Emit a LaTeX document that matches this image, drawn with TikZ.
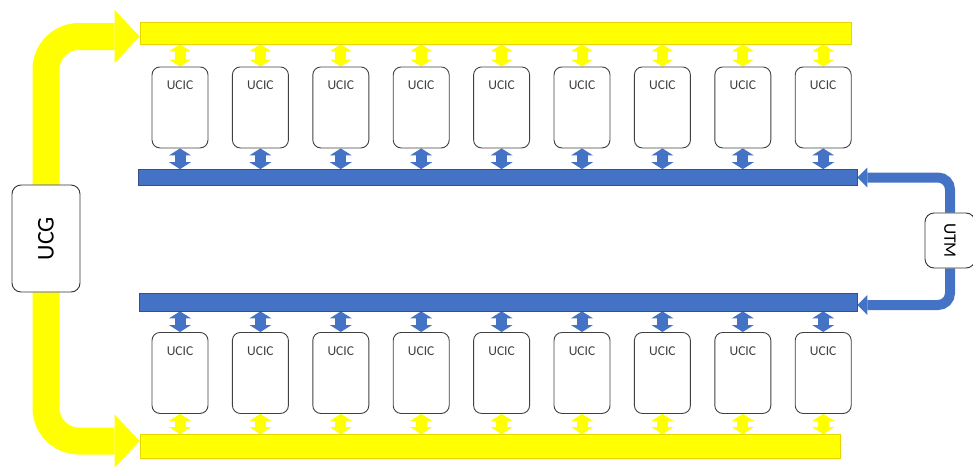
\documentclass[tikz,border=0pt]{standalone}
\usepackage{fontspec,graphicx}
\setmainfont{Carlito}
\usetikzlibrary{arrows.meta,positioning,backgrounds}
\definecolor{yc}{RGB}{255,255,0}
\definecolor{ye}{RGB}{232,214,0}
\definecolor{bc}{RGB}{68,114,196}
\definecolor{be}{RGB}{47,82,143}
\definecolor{tc}{RGB}{64,64,64}
\tikzset{ucic/.style={draw=tc,rounded corners=8pt,line width=.9pt,minimum width=56pt,inner xsep=0pt,inner ysep=14pt,
   text height=8.7pt,text depth=44.3pt,anchor=north,font=\fontsize{13.5}{14}\selectfont,text=tc},
 hub/.style={draw=black!80,fill=white,rounded corners=9pt,line width=.9pt,inner sep=0pt},
 ybar/.style={draw=ye,fill=yc,line width=.7pt,inner sep=0pt},
 bbar/.style={ybar,draw=be,fill=bc},
 yarr/.style={draw=yc,line width=11pt,{Triangle[width=22pt,length=7pt,line width=0pt]}-{Triangle[width=22pt,length=7pt,line width=0pt]}},
 barr/.style={yarr,draw=bc},
 ybig/.style={draw=yc,line width=27pt,rounded corners=33pt,-{Triangle[width=53pt,length=25pt,line width=0pt]}},
 bbig/.style={draw=bc,line width=10pt,rounded corners=12pt,-{Triangle[width=20pt,length=10pt,line width=0pt]}}}
\begin{document}
\begin{tikzpicture}[x=1pt,y=-1pt]
\clip (0,0) rectangle (973,466);
% bars
\node[ybar,minimum width=711pt,minimum height=22pt] (ytop) at (495.5,33) {};
\node[bbar,minimum width=719pt,minimum height=16pt] (btop) at (497.5,177.5) {};
\node[bbar,minimum width=718pt,minimum height=18pt] (bbot) at (498,302) {};
\node[ybar,minimum width=700pt,minimum height=24pt] (ybot) at (490,446.5) {};
% units
\foreach \i in {1,...,9}{
 \node[ucic] (t\i) at ({180+80.4*(\i-1)},66.5) {UCIC};
 \node[ucic] (b\i) at ({180+80.4*(\i-1)},332) {UCIC};}
\node[hub,minimum width=68pt,minimum height=107pt,font=\fontsize{24}{24}\selectfont] (ucg) at (46,238.5) {\rotatebox{90}{UCG}};
\node[hub,minimum width=50pt,minimum height=55pt,font=\fontsize{17.5}{18}\selectfont] (utm) at (950,240.5) {\rotatebox{-90}{UTM}};
\begin{scope}[on background layer]
\foreach \i in {1,...,9}{
 \draw[yarr] (t\i.north) -- (t\i.north |- ytop.south);
 \draw[barr] (t\i.south) -- (t\i.south |- btop.north);
 \draw[barr] (b\i.north) -- (b\i.north |- bbot.south);
 \draw[yarr] (b\i.south) -- (b\i.south |- ybot.north);}
\draw[ybig] (ucg.north) |- ([yshift=-3.5pt]ytop.west);
\draw[ybig] (ucg.south) |- ([yshift=5.5pt]ybot.west);
\draw[bbig] (utm.north) |- (btop.east);
\draw[bbig] (utm.south) |- ([yshift=-3pt]bbot.east);
\end{scope}
\end{tikzpicture}
\end{document}
